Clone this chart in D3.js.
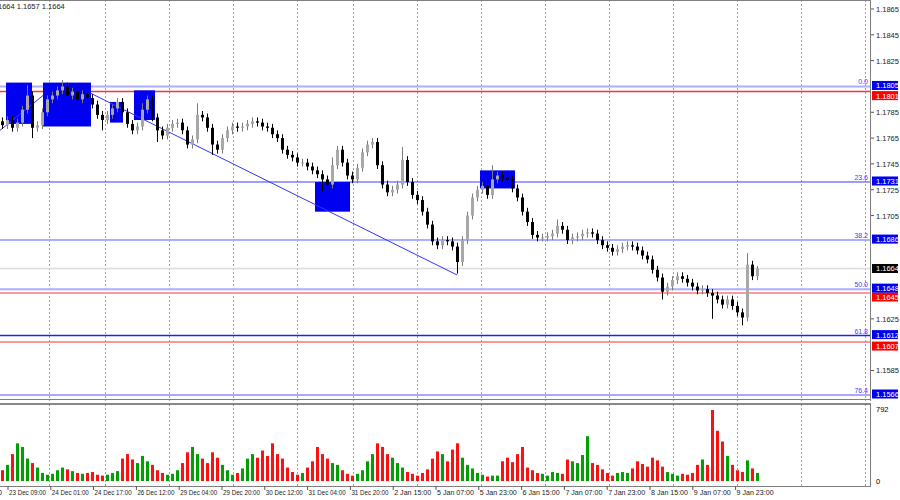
<!DOCTYPE html>
<html><head><meta charset="utf-8">
<script src="https://cdn.jsdelivr.net/npm/d3@7/dist/d3.min.js"></script>
<style>body{margin:0;background:#fff}svg{display:block}text{font-family:"Liberation Sans",Arial,sans-serif}</style>
</head><body><svg id="c" width="900" height="500"></svg>
<script>
// ---------- DATA ----------
const firstOpen = 1.1778;
const closes = [1.1775,1.1779,1.1773,1.1777,1.1787,1.1798,1.1773,1.1775,1.1785,1.1795,
1.1798,1.1802,1.1805,1.1798,1.1801,1.1795,1.1799,1.1796,1.1791,1.1783,
1.1779,1.1783,1.1788,1.1793,1.1785,1.1776,1.1771,1.1774,1.1787,1.1795,
1.1781,1.1771,1.1767,1.1773,1.1776,1.1777,1.1771,1.1760,1.1764,1.1783,
1.1781,1.1773,1.1760,1.1756,1.1765,1.1771,1.1774,1.1773,1.1774,1.1776,
1.1778,1.1777,1.1774,1.1773,1.1768,1.1765,1.1756,1.1752,1.1750,1.1746,
1.1746,1.1743,1.1740,1.1737,1.1733,1.1729,1.1744,1.1756,1.1746,1.1736,
1.1733,1.1742,1.1754,1.1760,1.1762,1.1744,1.1729,1.1723,1.1725,1.1729,
1.1748,1.1731,1.1721,1.1717,1.1708,1.1698,1.1685,1.1682,1.1686,1.1685,
1.1681,1.1669,1.1686,1.1705,1.1719,1.1725,1.1728,1.1721,1.1733,1.1736,
1.1734,1.1733,1.1726,1.1719,1.1708,1.1700,1.1690,1.1688,1.1688,1.1689,
1.1691,1.1697,1.1694,1.1686,1.1688,1.1689,1.1691,1.1692,1.1691,1.1686,
1.1682,1.1680,1.1677,1.1679,1.1681,1.1682,1.1681,1.1678,1.1674,1.1671,
1.1663,1.1657,1.1646,1.1650,1.1655,1.1658,1.1656,1.1653,1.1650,1.1647,
1.1648,1.1645,1.1643,1.1640,1.1636,1.1640,1.1635,1.1630,1.1626,1.1667,
1.1658,1.1664];
const wickSize = 0.0003;
const highSpikes = [[5,1.1806],[12,1.1810],[28,1.1792],[39,1.1792],[66,1.1750],[80,1.1758],[98,1.1744],[111,1.1702],[149,1.1676],[151,1.1666]];
const lowSpikes = [[6,1.1765],[20,1.1771],[31,1.1762],[42,1.1752],[64,1.1724],[91,1.1660],[132,1.1640],[142,1.1625],[148,1.1620]];
const volumes = [120,180,300,420,380,250,200,150,90,70,
80,120,150,130,110,90,80,90,100,70,60,
70,90,110,250,300,240,200,280,220,180,120,90,70,
80,120,200,320,380,300,250,200,320,260,180,120,70,
90,140,250,300,260,340,280,420,300,250,150,100,70,
90,150,220,380,300,250,200,180,120,80,60,
80,120,220,300,420,380,300,260,200,150,100,80,60,
90,130,250,330,300,220,350,420,260,180,140,90,70,
50,60,60,220,260,210,300,380,150,120,90,80,60,
100,90,80,240,220,200,290,500,200,180,130,90,60,90,100,90,
140,220,190,160,260,230,160,100,80,60,80,70,90,180,240,180,
792,560,440,280,180,120,100,230,140,90];
const priceTicks = [1.1865,1.1845,1.1825,1.1785,1.1765,1.1745,1.1725,1.1705,1.1625,1.1585];
const timeLabels = ["23 Dec 09:00","24 Dec 01:00","24 Dec 17:00","26 Dec 12:00","29 Dec 04:00","29 Dec 20:00","30 Dec 12:00","31 Dec 04:00","31 Dec 20:00","2 Jan 15:00","5 Jan 07:00","5 Jan 23:00","6 Jan 15:00","7 Jan 07:00","7 Jan 23:00","8 Jan 15:00","9 Jan 07:00","9 Jan 23:00"];
const dayGrid = [9.4,20.6,33.4,46.2,59,70.2,83,95.8,108.6,121.4,134.2,147,159.8,172.6];
const fibLevels = [["0.0",1.1805],["23.6",1.1731],["38.2",1.1686],["50.0",1.1648],["61.8",1.1612],["76.4",1.1566]];
const fibStyle = {"0.0":["#a8b0ff",2],"23.6":["#3a3aff",1],"38.2":["#a8b0ff",2],"50.0":["#a8b0ff",2],"61.8":["#2020ee",1.5],"76.4":["#5050ff",1]};
const redLevels = [[1.1801,"#ff3030",1.5],[1.1645,"#ff9a9a",2],[1.1607,"#ff7070",1.5]];
const currentPrice = 1.1664;
const boxes = [[0.8,6,1.1808,1.1776],[8.2,17.8,1.1808,1.1774],[21.6,24.2,1.1793,1.1777],[26.4,30.6,1.1802,1.1779],[62.6,69.6,1.1731,1.1708],[95.6,102.6,1.1740,1.1726]];
const trendLines = [[[-0.4,1.1771],[8.2,1.1798]],[[17.6,1.1800],[91,1.1659]]];
const header = "1664 1.1657 1.1664";
// ---------- LAYOUT ----------
const svg = d3.select("#c");
const x = d3.scaleLinear().domain([0,173.6]).range([2,870]);
const y = d3.scaleLinear().domain([1.1566,1.1865]).range([395,9]);
const yv = d3.scaleLinear().domain([0,792]).range([481,410]);
const candles = closes.map((c,i)=>{const o=i?closes[i-1]:firstOpen;return {i,o,c,h:Math.max(o,c)+wickSize,l:Math.min(o,c)-wickSize};});
highSpikes.forEach(([i,v])=>candles[i].h=v); lowSpikes.forEach(([i,v])=>candles[i].l=v);

svg.selectAll(".g").data(dayGrid).join("line").attr("x1",d=>Math.round(x(d))+.5).attr("x2",d=>Math.round(x(d))+.5)
 .attr("y1",0).attr("y2",486).attr("stroke","#a0a0a0").attr("stroke-dasharray","2,2");
svg.append("line").attr("x1",0).attr("x2",870).attr("y1",y(currentPrice)).attr("y2",y(currentPrice)).attr("stroke","#dcdcdc").attr("stroke-width",1.5);
redLevels.forEach(([v,c,w])=>svg.append("line").attr("x1",0).attr("x2",870).attr("y1",y(v)).attr("y2",y(v)).attr("stroke",c).attr("stroke-width",w));
fibLevels.forEach(([n,v])=>{const [c,w]=fibStyle[n];
 svg.append("line").attr("x1",0).attr("x2",870).attr("y1",y(v)).attr("y2",y(v)).attr("stroke",c).attr("stroke-width",w);
 svg.append("text").attr("x",868).attr("y",y(v)-2).attr("text-anchor","end").attr("font-size",7).attr("fill","#4040ff").text(n);});
svg.selectAll(".b").data(boxes).join("rect").attr("x",d=>x(d[0])).attr("width",d=>x(d[1])-x(d[0]))
 .attr("y",d=>y(d[2])).attr("height",d=>y(d[3])-y(d[2])).attr("fill","#0000f0");
trendLines.forEach(t=>svg.append("line").attr("x1",x(t[0][0])).attr("y1",y(t[0][1])).attr("x2",x(t[1][0])).attr("y2",y(t[1][1])).attr("stroke","#3333ff").attr("stroke-width",1));
const cg = svg.append("g");
candles.forEach(d=>{const cx=Math.round(x(d.i))+.5, up=d.c>=d.o;
 cg.append("line").attr("x1",cx).attr("x2",cx).attr("y1",y(d.h)).attr("y2",y(d.l)).attr("stroke",up?"#7a7a7a":"#000");
 const t=y(Math.max(d.o,d.c)), b=y(Math.min(d.o,d.c));
 cg.append("rect").attr("x",cx-1.5).attr("width",3).attr("y",t).attr("height",Math.max(1,b-t)).attr("fill",up?"#a8a8a8":"#000");});
svg.append("line").attr("x1",870.5).attr("x2",870.5).attr("y1",0).attr("y2",487).attr("stroke","#808080");
svg.append("line").attr("x1",0).attr("x2",871).attr("y1",399.5).attr("y2",399.5).attr("stroke","#808080");
svg.append("rect").attr("x",0).attr("y",401).attr("width",871).attr("height",3).attr("fill","#fff");
svg.append("line").attr("x1",0).attr("x2",871).attr("y1",404).attr("y2",404).attr("stroke","#606060").attr("stroke-width",1.5);
svg.append("line").attr("x1",0).attr("x2",871).attr("y1",486.5).attr("y2",486.5).attr("stroke","#808080");
svg.append("line").attr("x1",0).attr("x2",871).attr("y1",0.5).attr("y2",0.5).attr("stroke","#808080");
svg.selectAll(".v").data(candles).join("rect").attr("x",d=>Math.round(x(d.i))-1).attr("width",3)
 .attr("y",d=>yv(volumes[d.i]||60)).attr("height",d=>481-yv(volumes[d.i]||60)).attr("fill",d=>d.c>=d.o?"#00a000":"#ff1010");
priceTicks.forEach(v=>{svg.append("line").attr("x1",871).attr("x2",874).attr("y1",y(v)).attr("y2",y(v)).attr("stroke","#555");
 svg.append("text").attr("x",876).attr("y",y(v)+3).attr("font-size",7.5).attr("fill","#222").text(v.toFixed(4));});
function tag(v,bg,dy){svg.append("rect").attr("x",872).attr("y",y(v)-4.5+dy).attr("width",26).attr("height",9).attr("fill",bg);
 svg.append("text").attr("x",876).attr("y",y(v)+3+dy).attr("font-size",7.5).attr("fill","#fff").text(v.toFixed(4));}
redLevels.forEach(([v])=>tag(v,"#ff0000",4));
fibLevels.forEach(([n,v])=>tag(v,"#0000f0",-1));
tag(currentPrice,"#000",0);
svg.append("text").attr("x",876).attr("y",412).attr("font-size",7.5).text("792");
svg.append("text").attr("x",876).attr("y",484).attr("font-size",7.5).text("0");
timeLabels.forEach((t,k)=>{const xi=x(1.2+k*8.56);
 svg.append("line").attr("x1",xi).attr("x2",xi).attr("y1",486).attr("y2",490).attr("stroke","#555");
 svg.append("text").attr("x",xi+1).attr("y",495).attr("font-size",6.8).attr("fill","#222").attr("textLength",37).attr("lengthAdjust","spacingAndGlyphs").text(t);});
svg.append("text").attr("x",-2).attr("y",495).attr("font-size",7).text("0");
svg.append("text").attr("x",-2).attr("y",9).attr("font-size",7.5).attr("fill","#222").text(header);
</script></body></html>
